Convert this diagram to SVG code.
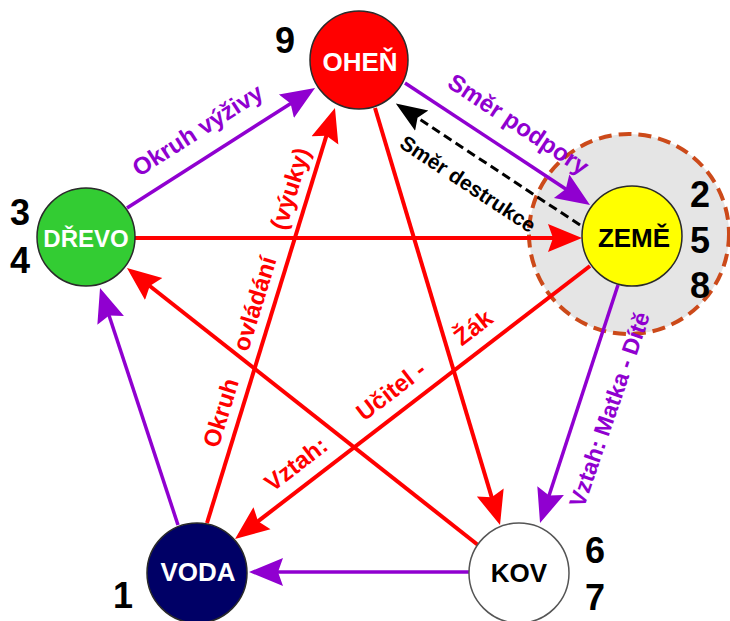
<svg xmlns="http://www.w3.org/2000/svg" width="730" height="621" viewBox="0 0 730 621">
<style>
.ln{fill:none;stroke-width:4}
.red{stroke:#ff0000}
.pur{stroke:#9000d0;stroke-width:3.5}
.blk{stroke:#000;stroke-width:3;stroke-dasharray:9 5}
.node{stroke:#2a2a2a;stroke-width:1.5}
.nl{font-family:'Liberation Sans',Arial,sans-serif;font-weight:bold;font-size:26px;text-anchor:middle}
.num{font-family:'Liberation Sans',Arial,sans-serif;font-weight:bold;font-size:36px;text-anchor:middle;fill:#000}
.el{font-family:'Liberation Sans',Arial,sans-serif;font-weight:bold;font-size:24px}
</style>
<defs>
<marker id="aR" markerUnits="userSpaceOnUse" markerWidth="40" markerHeight="32" viewBox="0 -16 40 32" refX="28" refY="0" orient="auto"><path d="M0,-14 L34,0 L0,14 L5,0 Z" fill="#ff0000"/></marker>
<marker id="aP" markerUnits="userSpaceOnUse" markerWidth="40" markerHeight="32" viewBox="0 -16 40 32" refX="28" refY="0" orient="auto"><path d="M0,-14 L34,0 L0,14 L5,0 Z" fill="#9000d0"/></marker>
<marker id="aK" markerUnits="userSpaceOnUse" markerWidth="40" markerHeight="32" viewBox="0 -16 40 32" refX="26" refY="0" orient="auto"><path d="M0,-12 L31,0 L0,12 L5,0 Z" fill="#000"/></marker>
</defs>
<rect width="730" height="621" fill="#fff"/>
<circle id="zone" cx="629" cy="234" r="100" fill="#e5e5e5" stroke="#cc4a1a" stroke-width="4" stroke-dasharray="13 7"/>
<g id="connectors">
<line class="ln pur" x1="127" y1="208" x2="310" y2="91.2" marker-end="url(#aP)"/>
<line class="ln pur" x1="405" y1="83" x2="585" y2="201.7" marker-end="url(#aP)"/>
<line class="ln blk" x1="580" y1="225" x2="400" y2="106.3" marker-end="url(#aK)"/>
<line class="ln red" x1="135" y1="238" x2="576" y2="238" marker-end="url(#aR)"/>
<line class="ln red" x1="207" y1="523" x2="333.2" y2="113.7" marker-end="url(#aR)"/>
<line class="ln red" x1="590" y1="266" x2="239.8" y2="535.3" marker-end="url(#aR)"/>
<line class="ln red" x1="375" y1="108" x2="498.3" y2="519.3" marker-end="url(#aR)"/>
<line class="ln red" x1="478" y1="545" x2="131.7" y2="271.7" marker-end="url(#aR)"/>
<line class="ln pur" x1="618" y1="285" x2="541.9" y2="517.3" marker-end="url(#aP)"/>
<line class="ln pur" x1="469" y1="572" x2="255" y2="572" marker-end="url(#aP)"/>
<line class="ln pur" x1="178" y1="525" x2="101.9" y2="293.7" marker-end="url(#aP)"/>
</g>
<g id="labels">
<text class="el" fill="#9000d0" text-anchor="middle" transform="translate(202,137) rotate(-32.5)">Okruh výživy</text>
<text class="el" fill="#9000d0" text-anchor="middle" transform="translate(514,131) rotate(33.4)">Směr podpory</text>
<text class="el" fill="#000" text-anchor="middle" style="font-size:21px" transform="translate(464,190) rotate(33.4)">Směr destrukce</text>
<text class="el" fill="#9000d0" text-anchor="middle" style="font-size:23px" transform="translate(617,412) rotate(-71)">Vztah: Matka - Dítě</text>
<text class="el" fill="#ff0000" transform="translate(226.5,527.9) rotate(-37.6)"><tspan x="58">Vztah:</tspan><tspan x="174">Učitel -</tspan><tspan x="297">Žák</tspan></text>
<text class="el" fill="#ff0000" transform="translate(196.5,519.8) rotate(-72.85)"><tspan x="74">Okruh</tspan><tspan x="175">ovládání</tspan><tspan x="302">(výuky)</tspan></text>
</g>
<g id="ohen">
<circle class="node" cx="359" cy="60" r="49" fill="#ff0000"/>
<text class="nl" x="360" y="71" fill="#fff">OHEŇ</text>
<text class="num" x="285" y="53">9</text>
</g>
<g id="zeme">
<circle class="node" cx="632" cy="236" r="50" fill="#ffff00"/>
<text class="nl" x="634" y="247" fill="#000">ZEMĚ</text>
<text class="num" x="700" y="207">2</text>
<text class="num" x="700" y="253">5</text>
<text class="num" x="700" y="298">8</text>
</g>
<g id="drevo">
<circle class="node" cx="86" cy="237" r="49" fill="#33cc33"/>
<text class="nl" x="86" y="247" fill="#fff" style="font-size:24px">DŘEVO</text>
<text class="num" x="20" y="225">3</text>
<text class="num" x="20" y="273">4</text>
</g>
<g id="voda">
<circle class="node" cx="197" cy="573" r="50" fill="#000066"/>
<text class="nl" x="198" y="581" fill="#fff">VODA</text>
<text class="num" x="123" y="608">1</text>
</g>
<g id="kov">
<circle cx="519" cy="573" r="50" fill="#fff" stroke="#555" stroke-width="1.5"/>
<text class="nl" x="519" y="582" fill="#000">KOV</text>
<text class="num" x="595" y="563">6</text>
<text class="num" x="595" y="610">7</text>
</g>
</svg>
